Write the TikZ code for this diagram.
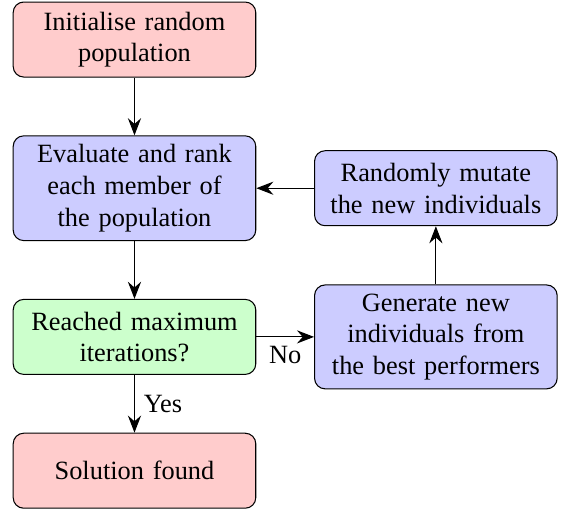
\documentclass[tikz,border=0pt]{standalone}
\usepackage{fontspec}
\setmainfont{Liberation Serif}
\usepackage{tikz}
\usetikzlibrary{arrows.meta,shapes,positioning}

\tikzset{
	stepbox/.style={rectangle, rounded corners, draw=black, text width=3cm, minimum height=1cm, align=center},
	startstop/.style={stepbox, fill=red!20},
	process/.style={stepbox, fill=blue!20},
	decision/.style={stepbox, fill=green!20},
	arrow/.style={thin, -{Stealth[length=6.5pt, width=5pt, inset=2.2pt]}}
}

\begin{document}
\begin{tikzpicture}[node distance=0.77cm]

	% fixed frame round the picture
	\useasboundingbox (-1.793,0.527) rectangle (5.7,-6.273);

	% left column
	\node (init) [startstop] {Initialise random\\population};
	\node (evaluate) [process, below=of init] {Evaluate and rank\\each member of\\the population};
	\node (check) [decision, below=of evaluate] {Reached maximum\\iterations?};
	\node (solution) [startstop, below=of check] {Solution found};

	% right column
	\node (generate) [process, right=of check] {Generate new\\individuals from\\the best performers};
	\node (mutate) [process, right=of evaluate] {Randomly mutate\\the new individuals};

	% connectors
	\draw [arrow] (init) -- (evaluate);
	\draw [arrow] (evaluate) -- (check);
	\draw [arrow] (check) -- node[right] {Yes} (solution);
	\draw [arrow] (check) -- node[below] {No} (generate);
	\draw [arrow] (generate) -- (mutate);
	\draw [arrow] (mutate) -- (evaluate);

\end{tikzpicture}
\end{document}
